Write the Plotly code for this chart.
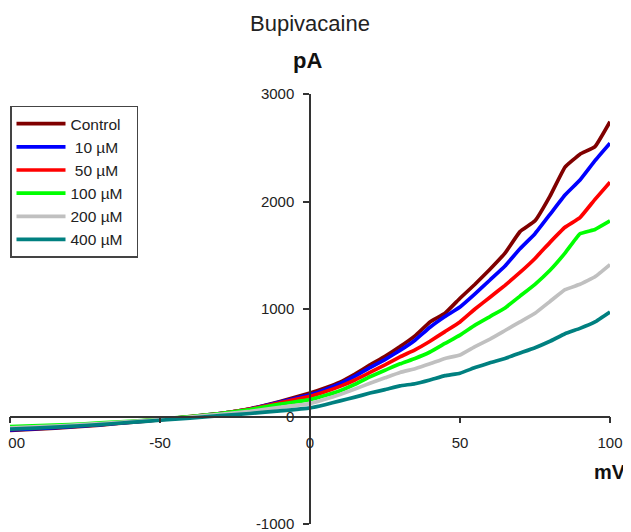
import plotly.graph_objects as go

# Membrane potential (mV)
mv = [-100, -90, -80, -70, -60, -50, -40, -30, -20, -10,
      0, 5, 10, 15, 20, 25, 30, 35, 40, 45, 50,
      55, 60, 65, 70, 75, 80, 85, 90, 95, 100]

# Currents (pA)
control = [-130, -115, -100, -80, -55, -30, -5, 28, 72, 140,
           218, 265, 320, 395, 480, 560, 650, 750, 880, 960, 1100,
           1230, 1370, 1520, 1720, 1820, 2050, 2320, 2440, 2510, 2742]
um10 = [-125, -110, -95, -75, -52, -28, -3, 28, 70, 135,
        203, 250, 305, 375, 455, 530, 615, 710, 830, 930, 1018,
        1140, 1270, 1400, 1560, 1700, 1880, 2060, 2200, 2380, 2542]
um50 = [-115, -102, -88, -70, -50, -27, -2, 27, 68, 128,
        187, 230, 280, 340, 410, 480, 555, 620, 700, 790, 880,
        1000, 1110, 1220, 1340, 1470, 1620, 1760, 1850, 2020, 2179]
um100 = [-95, -85, -75, -60, -45, -25, 0, 28, 65, 115,
         157, 195, 240, 300, 370, 430, 490, 540, 600, 680, 757,
         850, 930, 1010, 1120, 1230, 1360, 1520, 1700, 1740, 1819]
um200 = [-105, -95, -82, -65, -48, -28, -5, 20, 48, 85,
         120, 160, 205, 255, 310, 360, 410, 445, 490, 540, 572,
         650, 720, 800, 880, 960, 1070, 1180, 1230, 1300, 1413]
um400 = [-118, -105, -92, -75, -55, -35, -15, 8, 28, 52,
         80, 110, 145, 180, 218, 250, 285, 305, 340, 380, 403,
         455, 500, 540, 590, 640, 700, 770, 820, 880, 972]

series_names = ["Control\u00a0\u00a0", "\u00a010 µM", "\u00a050 µM", "100 µM\u00a0\u00a0", "200 µM", "400 µM"]
series_values = [control, um10, um50, um100, um200, um400]
series_colors = ["#800000", "#0000ff", "#ff0000", "#00ff00", "#c0c0c0", "#008080"]

x_ticks = [-100, -50, 0, 50, 100]
y_ticks = [-1000, 0, 1000, 2000, 3000]

FONT = "Arial, Liberation Sans, sans-serif"

fig = go.Figure()
for name, vals, col in zip(series_names, series_values, series_colors):
    fig.add_trace(go.Scatter(x=mv, y=vals, mode="lines", name=name,
                             line=dict(color=col, width=3.7, shape="spline", smoothing=0.3)))

fig.update_layout(
    template="none",
    width=623, height=524,
    margin=dict(l=1.5, r=21, t=86, b=8),
    paper_bgcolor="white", plot_bgcolor="white",
    font=dict(family=FONT, color="#222"),
    showlegend=True,
    legend=dict(x=0.0, y=0.973, xanchor="left", yanchor="top",
                bordercolor="#444", borderwidth=1.5, bgcolor="white",
                font=dict(family=FONT, size=15.5, color="#222"),
                itemwidth=49, tracegroupgap=0),
    xaxis=dict(range=[-100, 100], tickvals=x_ticks, ticktext=[str(v) for v in x_ticks],
               showgrid=False, zeroline=False, showline=True, linecolor="#333", linewidth=1.5,
               ticks="outside", ticklen=6, tickwidth=1.5, tickcolor="#333",
               tickfont=dict(family=FONT, size=15, color="#222"), ticklabelstandoff=7,
               anchor="free", position=0.25, automargin=False, ticklabeloverflow="allow"),
    yaxis=dict(range=[-1000, 3000], tickvals=y_ticks, ticktext=[str(v) for v in y_ticks],
               showgrid=False, zeroline=False, showline=True, linecolor="#333", linewidth=1.5,
               ticks="outside", ticklen=6, tickwidth=1.5, tickcolor="#333",
               tickfont=dict(family=FONT, size=15, color="#222"), ticklabelstandoff=6,
               anchor="free", position=0.5, automargin=False, ticklabeloverflow="allow"),
    annotations=[
        dict(text="Bupivacaine", xref="paper", yref="paper", x=0.5, y=1.165,
             xanchor="center", yanchor="middle",
             showarrow=False, font=dict(family=FONT, size=22, color="#222")),
        dict(text="<b>pA</b>", xref="paper", yref="paper", x=0.495, y=1.079,
             xanchor="center", yanchor="middle",
             showarrow=False, font=dict(family=FONT, size=22, color="#111")),
        dict(text="<b>mV</b>", xref="paper", yref="paper", x=1.0, y=0.121,
             xanchor="center", yanchor="middle",
             showarrow=False, font=dict(family=FONT, size=20, color="#111")),
    ],
)

fig.write_html("out.html", post_script="document.body.style.overflow='hidden';")
